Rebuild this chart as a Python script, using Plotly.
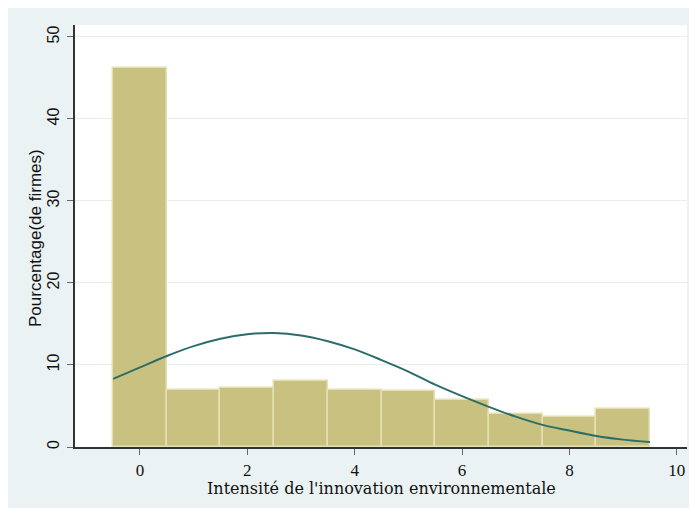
import plotly.graph_objects as go

# Histogram bins (centers) and percentages
bin_centers = [0, 1, 2, 3, 4, 5, 6, 7, 8, 9]
pct_firms = [46.2, 6.9, 7.2, 8.0, 6.9, 6.8, 5.7, 4.0, 3.6, 4.6]

# Normal density overlay
curve_x = [-0.5, 0, 0.5, 1, 1.5, 2, 2.5, 3, 3.5, 4, 4.5, 5, 5.5, 6, 6.5, 7, 7.5, 8, 8.5, 9, 9.5]
curve_y = [8.3, 9.7, 11.1, 12.3, 13.2, 13.75, 13.9, 13.6, 12.9, 11.9, 10.6, 9.2, 7.6, 6.2, 4.9, 3.7, 2.7, 2.0, 1.35, 0.9, 0.6]

x_ticks = [0, 2, 4, 6, 8, 10]
y_ticks = [0, 10, 20, 30, 40, 50]

# page body has an 8px margin; work in window pixels and convert
OFF = 8
WIN_W, WIN_H = 697, 513
W, H = WIN_W - OFF, WIN_H - OFF
plot_l, plot_r, plot_t, plot_b = 75, 686.7, 25, 447  # window pixels
ml = plot_l - OFF
mt = plot_t - OFF
mr = W - (plot_r - OFF)
mb = H - (plot_b - OFF)
pw, ph = W - ml - mr, H - mt - mb

def px_x(p):
    return (p - OFF - ml) / pw

def px_y(p):
    return (H - mb - (p - OFF)) / ph

serif = "Liberation Serif, DejaVu Serif, serif"
title_serif = "DejaVu Serif, Liberation Serif, serif"
sans = "Liberation Sans, Arial, sans-serif"

fig = go.Figure()
fig.add_trace(go.Bar(
    x=bin_centers, y=pct_firms, width=1,
    marker=dict(color="#c9c17f", line=dict(color="#e4e0b4", width=1.5)),
    showlegend=False, hoverinfo="x+y",
))
fig.add_trace(go.Scatter(
    x=curve_x, y=curve_y, mode="lines",
    line=dict(color="#2b6e69", width=2, shape="spline"),
    showlegend=False,
))

fig.update_layout(
    width=W, height=H,
    margin=dict(l=ml, r=mr, t=mt, b=mb, autoexpand=False),
    paper_bgcolor="white",
    plot_bgcolor="rgba(0,0,0,0)",
    font=dict(family=serif, size=16, color="#111111"),
    bargap=0,
    shapes=[
        dict(type="rect", xref="paper", yref="paper",
             x0=px_x(6), x1=px_x(691), y0=px_y(508), y1=px_y(6),
             fillcolor="#eaf2f3", line=dict(width=0), layer="below"),
        dict(type="rect", xref="paper", yref="paper",
             x0=0, x1=1, y0=0, y1=1,
             fillcolor="white", line=dict(width=0), layer="below"),
    ],
    annotations=[
        dict(text="Intensité de l'innovation environnementale",
             xref="paper", yref="paper", x=px_x(381.5), y=px_y(488),
             xanchor="center", yanchor="middle", showarrow=False,
             font=dict(family=title_serif, size=16, color="#111111")),
        dict(text="Pourcentage(de firmes)",
             xref="paper", yref="paper", x=px_x(36), y=px_y(238),
             xanchor="center", yanchor="middle", showarrow=False, textangle=-90,
             font=dict(family=sans, size=17, color="#111111")),
    ],
)
fig.update_xaxes(
    range=[-1.21, 10.19], tickvals=x_ticks, ticktext=[str(v) for v in x_ticks],
    showgrid=False, zeroline=False,
    showline=True, linecolor="#333333", linewidth=1.5,
    ticks="outside", ticklen=6, tickcolor="#666666",
    tickfont=dict(family=serif, size=17, color="#111111"),
    ticklabelstandoff=1,
)
fig.update_yaxes(
    range=[0, 51.45], tickvals=y_ticks, ticktext=[str(v) for v in y_ticks],
    showgrid=True, gridcolor="#e6eef0", gridwidth=1, zeroline=False,
    showline=True, linecolor="#333333", linewidth=1.5,
    ticks="outside", ticklen=6, tickcolor="#666666",
    tickangle=-90, tickfont=dict(family=sans, size=16, color="#111111"),
    ticklabelstandoff=2,
)

fig.write_html("out.html")
